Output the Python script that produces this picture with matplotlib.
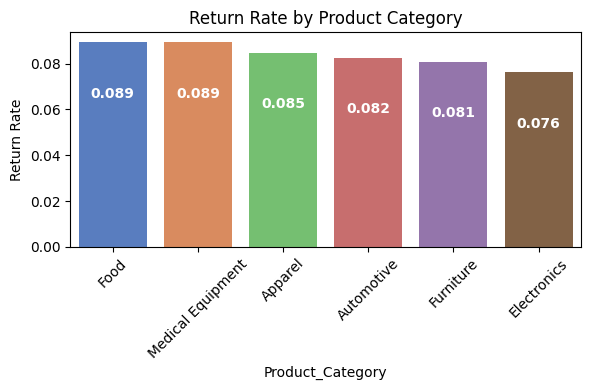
import matplotlib
matplotlib.use("Agg")
import matplotlib.pyplot as plt
import seaborn as sns

categories = ["Food", "Medical Equipment", "Apparel", "Automotive", "Furniture", "Electronics"]
return_rate = [0.0893, 0.0892, 0.0848, 0.0824, 0.0808, 0.0762]

fig, ax = plt.subplots(figsize=(5.9, 3.9), dpi=100)
sns.barplot(x=categories, y=return_rate, hue=categories, palette="muted", legend=False, ax=ax)

for i, v in enumerate(return_rate):
    ax.annotate(f"{v:.3f}", (i, v), xytext=(0, -37), textcoords="offset points",
                ha="center", va="center", color="white", fontweight="bold", fontsize=10)

ax.set_title("Return Rate by Product Category")
ax.set_xlabel("Product_Category")
ax.set_ylabel("Return Rate")
plt.xticks(rotation=45)
fig.subplots_adjust(left=0.119, right=0.985, top=0.918, bottom=0.367)
plt.savefig("out.png")
